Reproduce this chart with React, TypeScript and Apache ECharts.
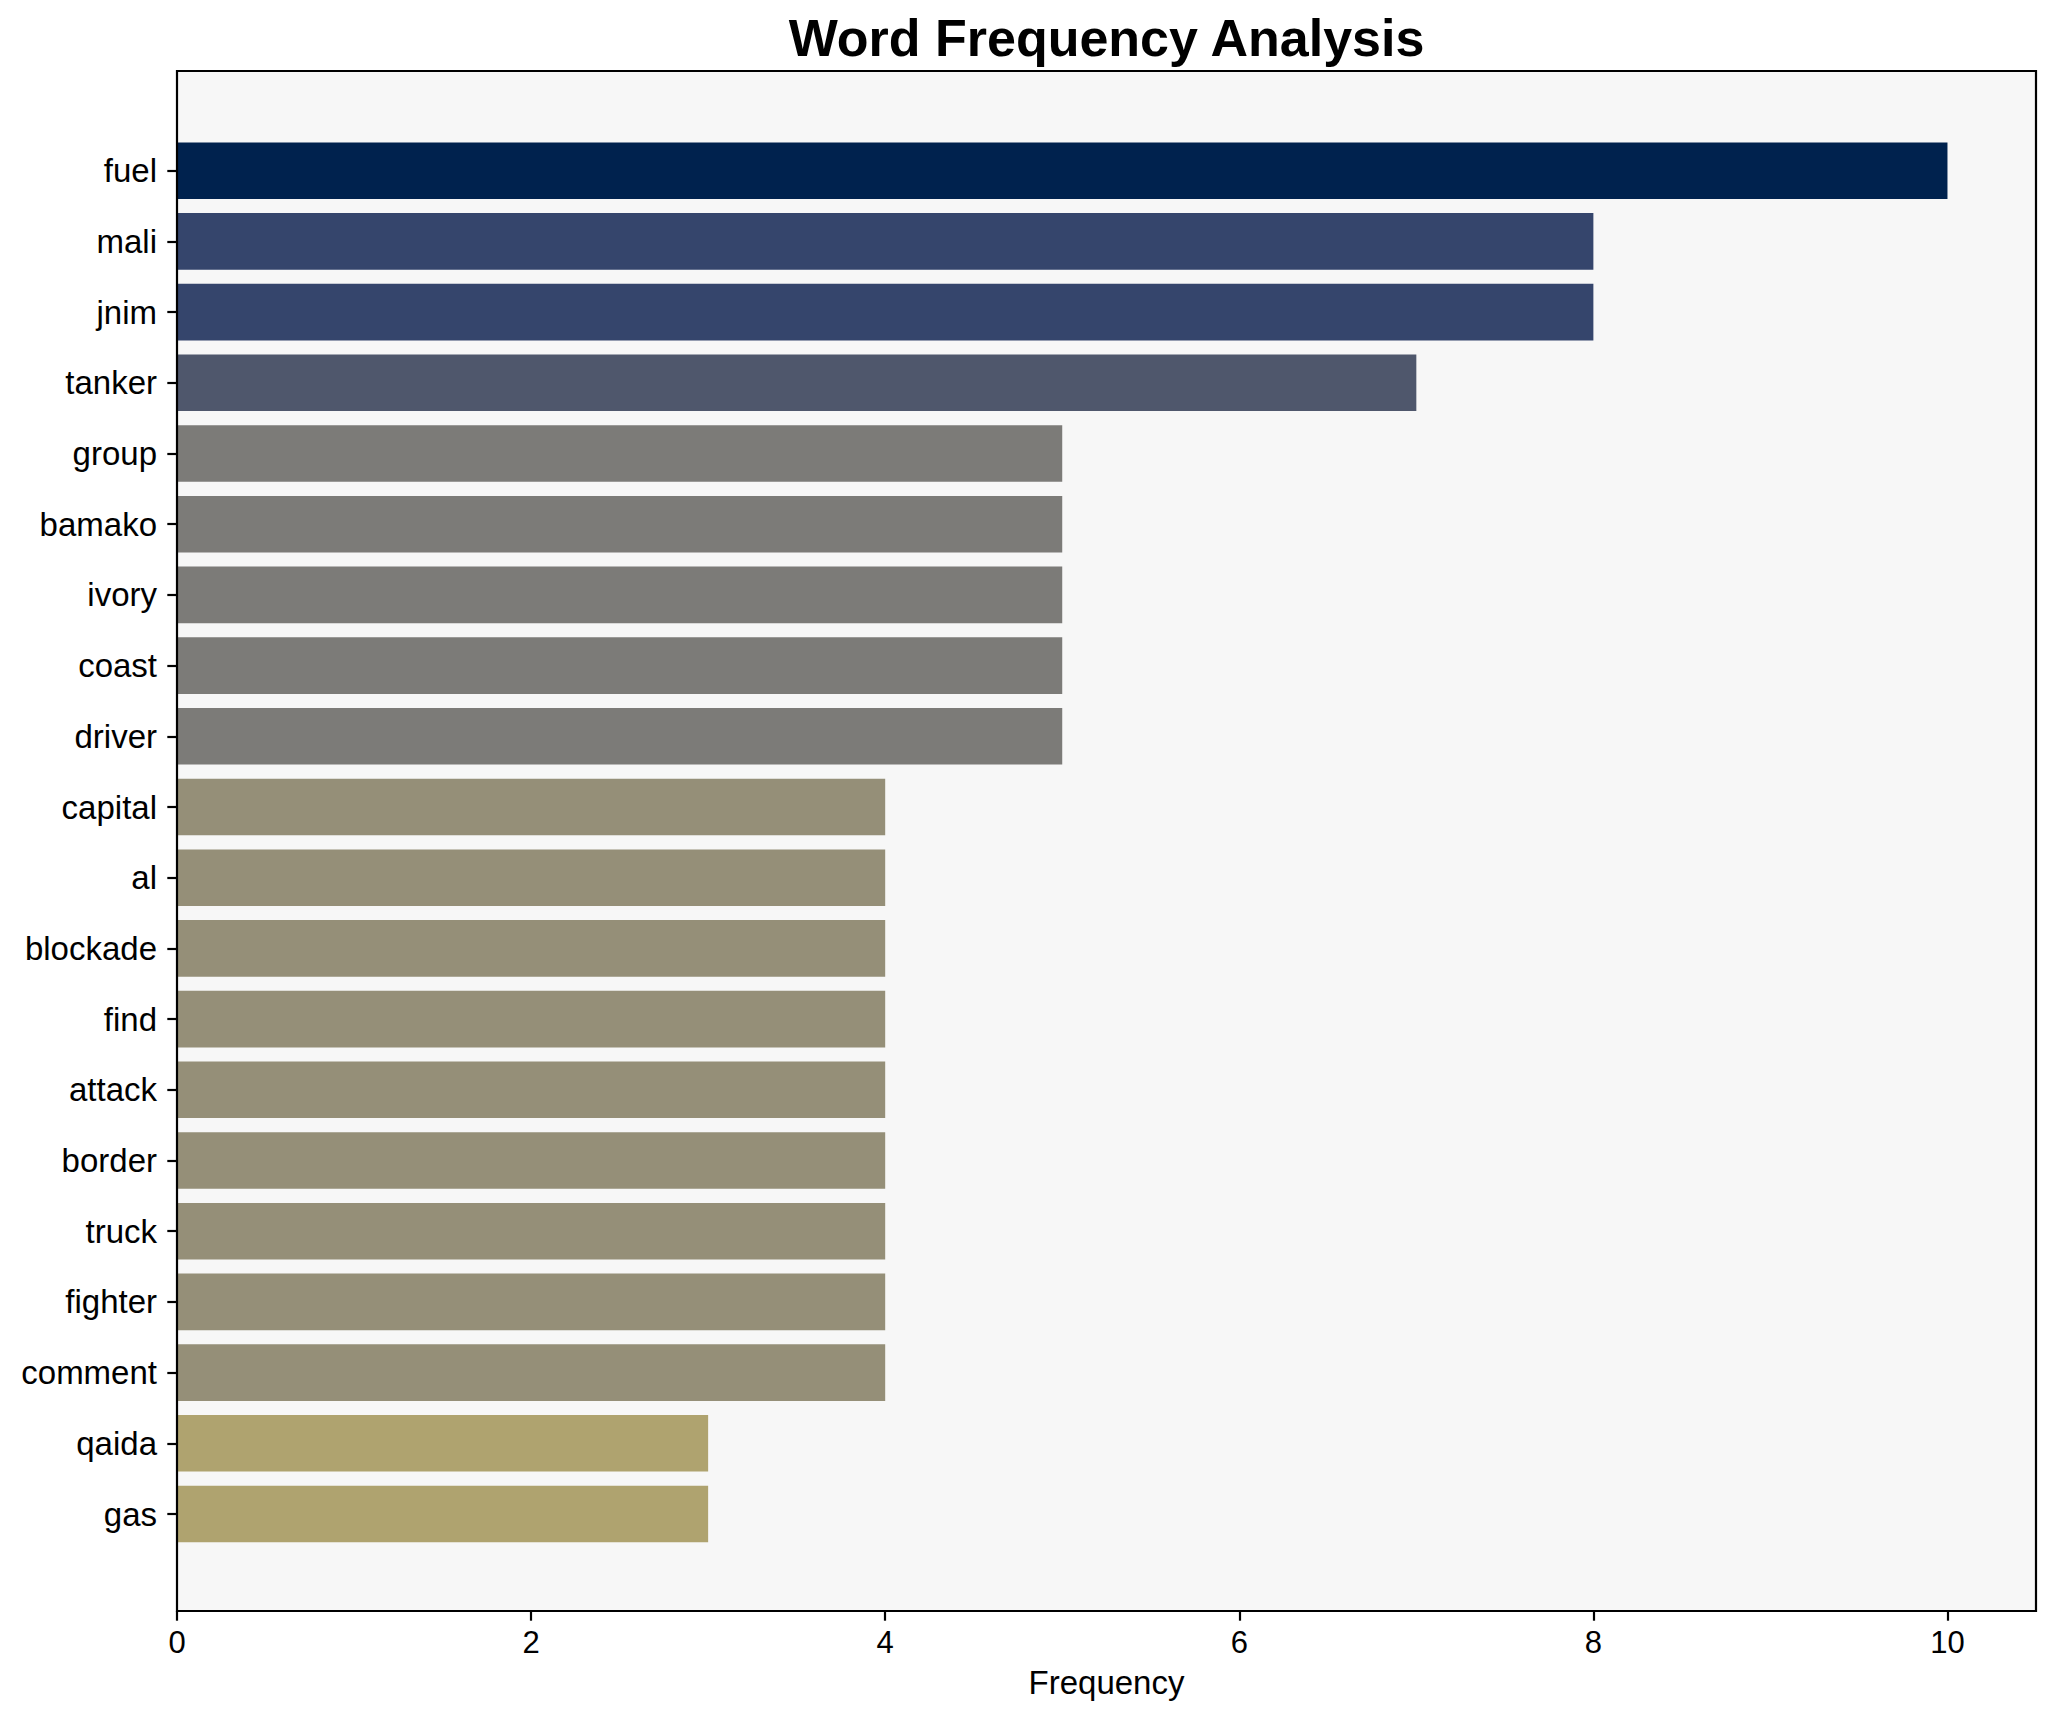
import React, { useEffect, useRef } from "react";
import * as echarts from "echarts";

const categories = [
  "fuel", "mali", "jnim", "tanker", "group", "bamako", "ivory", "coast", "driver",
  "capital", "al", "blockade", "find", "attack", "border", "truck", "fighter", "comment",
  "qaida", "gas",
];
const frequencies = [10, 8, 8, 7, 5, 5, 5, 5, 5, 4, 4, 4, 4, 4, 4, 4, 4, 4, 3, 3];
const barColors = [
  "#00224e", "#35456c", "#35456c", "#4f576c", "#7c7b78", "#7c7b78", "#7c7b78", "#7c7b78", "#7c7b78",
  "#958f78", "#958f78", "#958f78", "#958f78", "#958f78", "#958f78", "#958f78", "#958f78", "#958f78",
  "#afa36f", "#afa36f",
];
const xTicks = [0, 2, 4, 6, 8, 10];

const FONT = "'Liberation Sans', Arial, Helvetica, sans-serif";

export default function App() {
  const ref = useRef<HTMLDivElement>(null);
  useEffect(() => {
    document.body.style.margin = "0";
    if (!ref.current) return;
    const chart = echarts.init(ref.current, undefined, { renderer: "svg" });
    const axL = 177, axT = 71, axW = 1859, axH = 1540;
    const pitch = 70.7;
    const firstCenter = 170.7;
    chart.setOption({
      animation: false,
      backgroundColor: "#ffffff",
      textStyle: { fontFamily: FONT },
      grid: [
        { left: axL, top: axT, width: axW, height: axH, show: true, backgroundColor: "#f7f7f7", borderWidth: 0 },
        { left: axL, top: firstCenter - pitch / 2, width: axW, height: pitch * categories.length, show: false },
      ],
      xAxis: [
        {
          type: "value", gridIndex: 0, min: 0, max: 10.5,
          axisLine: { show: true, lineStyle: { color: "#000", width: 2.2 } },
          axisTick: { show: true, inside: false, length: 9.7, customValues: xTicks, lineStyle: { color: "#000", width: 2.2 } },
          axisLabel: {
            show: true, color: "#000", fontSize: 31, fontFamily: FONT, margin: 16,
            customValues: xTicks,
            formatter: (v: number) => String(v),
          },
          splitLine: { show: false },
          name: "Frequency", nameLocation: "middle", nameGap: 55,
          nameTextStyle: { color: "#000", fontSize: 33, fontFamily: FONT },
        },
        { type: "value", gridIndex: 1, min: 0, max: 10.5, show: false },
      ],
      yAxis: [
        { type: "value", gridIndex: 0, show: false, min: 0, max: 1 },
        {
          type: "category", gridIndex: 1, data: categories, inverse: true,
          axisLine: { show: false },
          axisTick: { show: true, alignWithLabel: true, inside: false, length: 9.7, lineStyle: { color: "#000", width: 2.2 } },
          axisLabel: { color: "#000", fontSize: 33, fontFamily: FONT, margin: 20, interval: 0 },
          splitLine: { show: false },
        },
      ],
      series: [
        {
          type: "bar", xAxisIndex: 1, yAxisIndex: 1, barWidth: "80%",
          data: frequencies.map((v, i) => ({ value: v, itemStyle: { color: barColors[i] } })),
        },
      ],
      graphic: [
        {
          type: "rect", z: 100, silent: true,
          shape: { x: axL, y: axT, width: axW, height: axH },
          style: { fill: "none", stroke: "#000", lineWidth: 2.2 },
        },
        {
          type: "text", z: 100, x: axL + axW / 2, y: 38,
          style: {
            text: "Word Frequency Analysis", fill: "#000",
            font: `bold 52px ${FONT}`, textAlign: "center", textVerticalAlign: "middle",
          },
        },
      ],
    });
    return () => chart.dispose();
  }, []);
  return <div ref={ref} style={{ width: 2056, height: 1722 }} />;
}
